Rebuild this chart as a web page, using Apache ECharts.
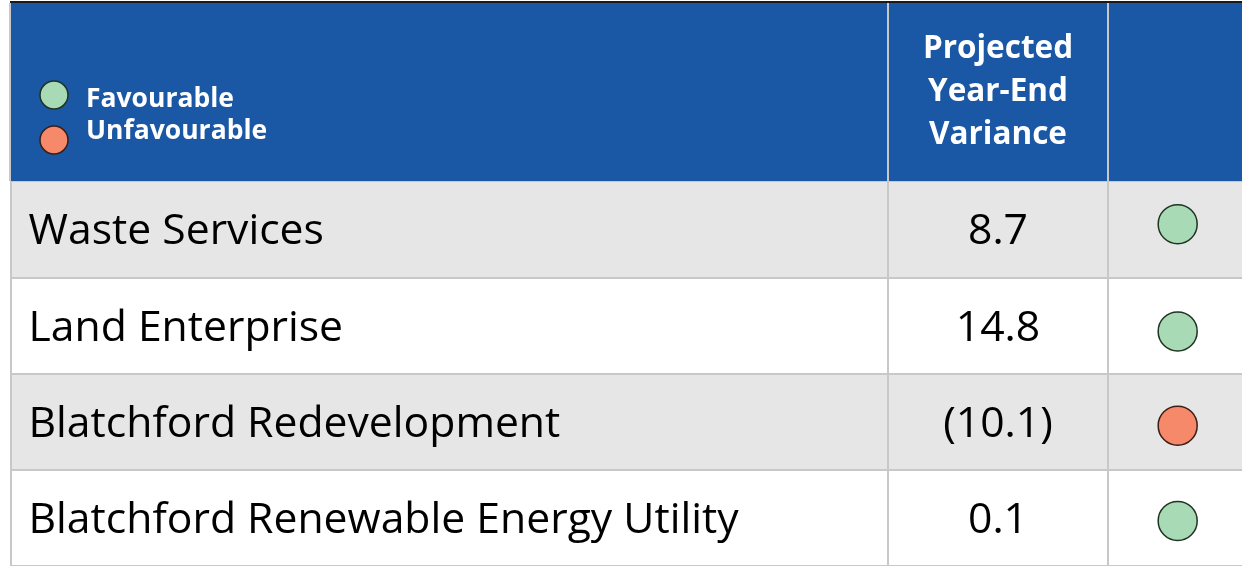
<!DOCTYPE html>
<html>
<head>
<meta charset="utf-8">
<script src="https://cdn.jsdelivr.net/npm/echarts@6/dist/echarts.min.js"></script>
<style>
html,body{margin:0;padding:0;background:#fff;}
#c{width:1242px;height:566px;}
</style>
</head>
<body>
<div id="c"></div>
<script>
// ---- data ----
var names = ['Waste Services', 'Land Enterprise', 'Blatchford Redevelopment', 'Blatchford Renewable Energy Utility'];
var variances = [8.7, 14.8, -10.1, 0.1];
var statuses = ['Favourable', 'Favourable', 'Unfavourable', 'Favourable'];
var headerTitle = 'Projected\nYear-End\nVariance';
var legendItems = ['Favourable', 'Unfavourable'];

// ---- styles / layout ----
var FONT = '"Open Sans", "Noto Sans", sans-serif';
var BLUE = '#1a58a6';
var LINE = '#c8c8c8';
var statusColor = { 'Favourable': '#a8dab5', 'Unfavourable': '#f6896a' };
var statusBorder = { 'Favourable': '#1f3322', 'Unfavourable': '#3a1f18' };
var circleOffsetY = [-5, 6, 4, 3];

function fmt(v) {
  return v < 0 ? '(' + Math.abs(v).toFixed(1) + ')' : v.toFixed(1);
}

var rowTop = 181, rowH = 97;
var cols = [
  { left: 11, width: 877 },
  { left: 888, width: 220 },
  { left: 1108, width: 134 }
];

var grids = [], xAxes = [], yAxes = [];
cols.forEach(function (c, i) {
  grids.push({ left: c.left, top: rowTop, width: c.width, height: rowH * names.length });
  xAxes.push({ gridIndex: i, type: 'value', min: 0, max: 1, show: false });
  yAxes.push({
    gridIndex: i, type: 'category', inverse: true, data: names,
    axisLabel: { show: false }, axisTick: { show: false },
    axisLine: { show: true, lineStyle: { color: LINE, width: 2 } },
    splitLine: { show: true, lineStyle: { color: LINE, width: 2 } },
    splitArea: { show: true, areaStyle: { color: ['#e6e6e6', '#ffffff'] } }
  });
});

var option = {
  animation: false,
  backgroundColor: '#ffffff',
  grid: grids,
  xAxis: xAxes,
  yAxis: yAxes,
  graphic: [
    { type: 'rect', shape: { x: 10, y: 1, width: 1232, height: 2 }, style: { fill: '#1a1a1a' }, z: 10 },
    { type: 'rect', shape: { x: 11, y: 3, width: 1231, height: 178 }, style: { fill: BLUE }, z: 10 },
    { type: 'rect', shape: { x: 9, y: 3, width: 2, height: 178 }, style: { fill: LINE }, z: 10 },
    { type: 'rect', shape: { x: 887, y: 3, width: 2, height: 178 }, style: { fill: LINE }, z: 11 },
    { type: 'rect', shape: { x: 1107, y: 3, width: 2, height: 178 }, style: { fill: LINE }, z: 11 },
    { type: 'text', x: 998, y: 92, z: 12,
      style: { text: headerTitle, fontFamily: FONT, fontSize: 31.5, fontWeight: 'bold', fill: '#fff',
               align: 'center', verticalAlign: 'middle', lineHeight: 43 } },
    { type: 'circle', shape: { cx: 54, cy: 95, r: 14 }, z: 12,
      style: { fill: statusColor[legendItems[0]], stroke: statusBorder[legendItems[0]], lineWidth: 1.5 } },
    { type: 'circle', shape: { cx: 54, cy: 140, r: 14 }, z: 12,
      style: { fill: statusColor[legendItems[1]], stroke: statusBorder[legendItems[1]], lineWidth: 1.5 } },
    { type: 'text', x: 86, y: 99, z: 12,
      style: { text: legendItems[0], fontFamily: FONT, fontSize: 26.5, fontWeight: 'bold', fill: '#fff', verticalAlign: 'middle' } },
    { type: 'text', x: 86, y: 131, z: 12,
      style: { text: legendItems[1], fontFamily: FONT, fontSize: 26.5, fontWeight: 'bold', fill: '#fff', verticalAlign: 'middle' } }
  ],
  series: [
    {
      type: 'scatter', xAxisIndex: 0, yAxisIndex: 0, symbolSize: 1,
      itemStyle: { color: 'rgba(0,0,0,0)', opacity: 1 },
      data: names.map(function (n, i) { return { value: [0, i], name: n }; }),
      label: { show: true, position: 'right', distance: 17, offset: [0, 3], opacity: 1,
               formatter: function (p) { return p.name; },
               fontFamily: FONT, fontSize: 42.7, color: '#000' }
    },
    {
      type: 'scatter', xAxisIndex: 1, yAxisIndex: 1, symbolSize: 1,
      itemStyle: { color: 'rgba(0,0,0,0)', opacity: 1 },
      data: variances.map(function (v, i) { return { value: [0.5, i] }; }),
      label: { show: true, position: 'inside', offset: [0, 3], opacity: 1,
               formatter: function (p) { return fmt(variances[p.dataIndex]); },
               fontFamily: FONT, fontSize: 42.7, color: '#000' }
    },
    {
      type: 'scatter', xAxisIndex: 2, yAxisIndex: 2, symbol: 'circle', symbolSize: 39,
      data: statuses.map(function (s, i) {
        return { value: [0.52, i], symbolOffset: [0, circleOffsetY[i]],
                 itemStyle: { color: statusColor[s], borderColor: statusBorder[s], borderWidth: 1.5, opacity: 1 } };
      })
    }
  ]
};

var chart = echarts.init(document.getElementById('c'), null, { renderer: 'canvas' });
chart.setOption(option);
</script>
</body>
</html>
